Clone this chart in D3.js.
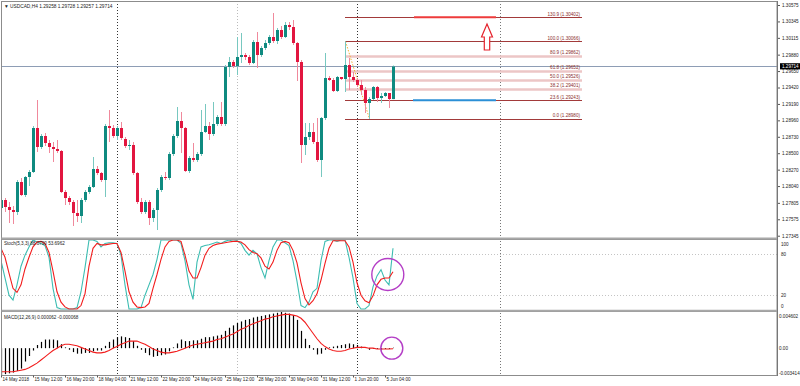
<!DOCTYPE html>
<html>
<head>
<meta charset="utf-8">
<script src="https://cdn.jsdelivr.net/npm/d3@7"></script>
<style>
  body { margin: 0; background: #fff; }
  svg { display: block; font-family: "Liberation Sans", Arial, sans-serif; }
  .ax text { font-size: 4.6px; fill: #222; }
  .ax line { stroke: #555; }
</style>
</head>
<body>
<div id="chart"></div>
<script>
// USDCAD H4 - velas 14 May 04:00 .. 5 Jun 12:00 (indice de barra 1..99)
const opens = [1.27733,1.27845,1.27747,1.27705,1.27677,1.28097,1.27915,1.28167,1.28237,1.28853,
  1.28587,1.28741,1.28643,1.28587,1.28559,1.28531,1.27957,1.27873,1.27817,1.27663,
  1.27621,1.27845,1.27957,1.28027,1.28279,1.28223,1.28125,1.28881,1.28853,1.28741,
  1.28853,1.28699,1.28601,1.28615,1.28223,1.27817,1.27677,1.27817,1.27593,1.27705,
  1.27985,1.28167,1.28153,1.28489,1.28741,1.28951,1.28853,1.28251,1.28433,1.28405,
  1.28489,1.28797,1.28881,1.28769,1.28909,1.29007,1.28909,1.29707,1.29777,1.29721,
  1.29847,1.29875,1.29847,1.29763,1.30057,1.29875,1.29973,1.30043,1.30127,1.30071,
  1.30225,1.30127,1.30295,1.30267,1.30043,1.29777,1.28615,1.28727,1.28797,1.28657,
  1.28405,1.28993,1.29553,1.29525,1.29371,1.29567,1.29539,1.29735,1.29567,1.29525,
  1.29455,1.29385,1.29203,1.29259,1.29427,1.29273,1.29301,1.29343,1.29258]
const highs = [1.27887,1.27873,1.27817,1.27761,1.28125,1.28153,1.28181,1.28265,1.28881,1.29245,
  1.28769,1.28783,1.28685,1.28657,1.28685,1.28545,1.27985,1.27901,1.27845,1.27845,
  1.27873,1.27985,1.28055,1.28447,1.28321,1.28237,1.28909,1.29105,1.28895,1.28881,
  1.28937,1.28727,1.28685,1.28657,1.28237,1.27873,1.27845,1.27845,1.27733,1.28013,
  1.28195,1.28237,1.28517,1.28769,1.29147,1.29077,1.28867,1.28461,1.28643,1.28517,
  1.29105,1.29189,1.28937,1.29217,1.29035,1.29217,1.29735,1.29847,1.29805,1.30127,
  1.30183,1.29903,1.29875,1.30085,1.30197,1.30001,1.30085,1.30155,1.30463,1.30253,
  1.30281,1.30337,1.30337,1.30365,1.30057,1.29805,1.28923,1.28923,1.28923,1.28993,
  1.29007,1.29903,1.29581,1.29553,1.29581,1.29567,1.30066,1.29833,1.29637,1.29553,
  1.29525,1.29427,1.29287,1.29441,1.29441,1.29343,1.29357,1.29343,1.29728]
const lows = [1.27677,1.27677,1.27523,1.27509,1.27635,1.27901,1.27887,1.28041,1.28223,1.28517,
  1.28559,1.28601,1.28503,1.28377,1.28503,1.27943,1.27775,1.27775,1.27481,1.27537,
  1.27523,1.27817,1.27929,1.28013,1.28195,1.28097,1.27887,1.28657,1.28713,1.28685,
  1.28685,1.28573,1.28545,1.28195,1.27789,1.27649,1.27649,1.27495,1.27537,1.27425,
  1.27957,1.28125,1.28125,1.28461,1.28713,1.28503,1.28237,1.28223,1.28377,1.28377,
  1.28461,1.28783,1.28685,1.28741,1.28881,1.28881,1.28881,1.29567,1.29693,1.29595,
  1.29763,1.29805,1.29735,1.29749,1.29693,1.29847,1.29945,1.30015,1.30043,1.30029,
  1.30099,1.30113,1.30225,1.30015,1.29511,1.28363,1.28475,1.28685,1.28629,1.28377,
  1.28167,1.28965,1.29511,1.29357,1.29357,1.29525,1.29357,1.29385,1.29497,1.29427,
  1.29315,1.29063,1.28980,1.29245,1.29217,1.29203,1.29287,1.29133,1.29257]
const closes = [1.27845,1.27747,1.27705,1.27677,1.28097,1.27915,1.28167,1.28237,1.28853,1.28587,
  1.28741,1.28643,1.28587,1.28559,1.28531,1.27957,1.27873,1.27817,1.27663,1.27621,
  1.27845,1.27957,1.28027,1.28279,1.28223,1.28125,1.28881,1.28853,1.28741,1.28853,
  1.28713,1.28601,1.28615,1.28223,1.27817,1.27677,1.27817,1.27593,1.27705,1.27985,
  1.28167,1.28153,1.28489,1.28741,1.28951,1.28853,1.28251,1.28433,1.28405,1.28489,
  1.28797,1.28881,1.28769,1.28909,1.29007,1.28909,1.29707,1.29777,1.29721,1.29847,
  1.29875,1.29847,1.29763,1.30057,1.29875,1.29973,1.30043,1.30127,1.30071,1.30225,
  1.30127,1.30295,1.30267,1.30043,1.29777,1.28615,1.28727,1.28797,1.28657,1.28405,
  1.28993,1.29553,1.29525,1.29371,1.29567,1.29539,1.29735,1.29567,1.29525,1.29455,
  1.29385,1.29203,1.29259,1.29427,1.29273,1.29301,1.29343,1.29259,1.29714]

// Estocástico (5,3,3): %K y %D
const stochK = [70,45,20,13,35,62,78,90,100,97, 95,92,75,30,2,0,0,0,0,2,
  25,60,100,100,98,90,95,96,96,95, 78,35,0,0,0,2,20,35,50,72,
  100,100,100,100,100,95,70,35,14,68, 90,92,93,95,97,95,98,100,98,99,
  95,85,78,85,80,60,45,70,90,100, 100,96,92,70,40,5,2,10,25,30,
  70,98,100,100,98,100,100,75,45,8, 0,0,5,32,48,57,42,35,88]
const stochD = [88,75,52,30,24,35,58,75,90,97, 98,95,82,55,25,10,3,0,0,0,
  5,22,62,88,95,93,93,94,95,95, 82,55,25,10,3,2,3,8,30,50,
  72,90,98,100,100,98,78,55,45,45, 60,78,88,92,94,95,96,97,98,98,
  97,93,86,82,80,74,62,58,68,85, 96,98,96,85,67,38,15,6,12,22,
  42,66,88,99,99,99,99,90,68,38, 20,12,9,19,35,43,45,45,54]

// MACD (12,26,9): histograma y señal
const macdHist = [-0.0034,-0.0033,-0.0032,-0.0031,-0.0029,-0.0026,-0.0017,-0.0010,-0.0003,0.0004,
  0.0008,0.0011,0.0011,0.0011,0.0010,0.0005,0.0001,-0.0002,-0.0005,-0.0007,
  -0.0007,-0.0006,-0.0006,-0.0004,-0.0003,-0.0003,0.0003,0.0008,0.0011,0.0014,
  0.0015,0.0014,0.0013,0.0009,0.0003,-0.0002,-0.0006,-0.0009,-0.0011,-0.0010,
  -0.0009,-0.0008,-0.0004,0.0001,0.0006,0.0011,0.0009,0.0009,0.0010,0.0010,
  0.0012,0.0014,0.0014,0.0015,0.0016,0.0017,0.0022,0.0026,0.0029,0.0032,
  0.0034,0.0036,0.0037,0.0039,0.0040,0.0041,0.0042,0.0043,0.0044,0.0045,
  0.0046,0.0045,0.0044,0.0042,0.0036,0.0022,0.0012,0.0004,-0.0002,-0.0008,
  -0.0007,-0.0002,0.0001,0.0002,0.0003,0.0004,0.0005,0.0006,0.0005,0.0004,
  0.0002,0.0000,-0.0002,-0.0001,-0.0001,-0.0002,-0.0001,-0.0001,0.00006]
const macdSignal = [-0.0030,-0.0030,-0.0030,-0.0030,-0.0029,-0.0028,-0.0027,-0.0025,-0.0022,-0.0019,
  -0.0015,-0.0011,-0.0007,-0.0003,0.0000,0.0003,0.0005,0.0005,0.0004,0.0003,
  0.0001,-0.0001,-0.0003,-0.0005,-0.0006,-0.0006,-0.0005,-0.0003,0.0000,0.0002,
  0.0005,0.0007,0.0009,0.0009,0.0009,0.0007,0.0005,0.0002,-0.0001,-0.0003,
  -0.0005,-0.0006,-0.0006,-0.0005,-0.0004,-0.0002,0.0000,0.0002,0.0004,0.0005,
  0.0006,0.0007,0.0008,0.0009,0.0011,0.0012,0.0014,0.0016,0.0018,0.0021,
  0.0024,0.0026,0.0029,0.0031,0.0033,0.0035,0.0037,0.0038,0.0040,0.0041,
  0.0042,0.0043,0.0043,0.0042,0.0041,0.0038,0.0033,0.0026,0.0019,0.0012,
  0.0006,0.0002,-0.0001,-0.0003,-0.0004,-0.0004,-0.0003,-0.0001,0.0000,0.0001,
  0.0001,0.0001,0.0000,0.0000,-0.0001,-0.0001,-0.0001,-0.0001,-0.00007]

// Etiquetas de los ejes
const priceTicks = [1.30575,1.30345,1.30115,1.29880,1.29650,1.29420,1.29190,1.28960,
  1.28730,1.28500,1.28270,1.28040,1.27805,1.27575,1.27345]
const stochTicks = [100, 80, 20, 0]
const macdTicks = [0.004602, 0, -0.003414]
const macdTickLabels = ["0.004602", "0.00", "-0.003414"]
const timeLabels = ["14 May 2018","15 May 12:00","16 May 20:00","18 May 04:00","21 May 12:00",
  "22 May 20:00","24 May 04:00","25 May 12:00","28 May 20:00","30 May 04:00",
  "31 May 12:00","1 Jun 20:00","5 Jun 04:00"]
const timeLabelBars = [1, 9, 17, 25, 33, 41, 49, 57, 65, 73, 81, 89, 97]

// Fibonacci (de máximo barra 87 a mínimo barra 93) y objetos dibujados
const fibLevels = ["130.9", "100.0", "80.9", "61.8", "50.0", "38.2", "23.6", "0.0"]
const fibPrices = [1.30402, 1.30066, 1.29862, 1.29652, 1.29526, 1.29401, 1.29243, 1.28980]
const separatorBars = [30, 60, 90, 125.75]
const lastPrice = 1.29714

// ----------------------------------------------------------

const width = 800
const height = 386
const axisX = 777
const left = 2

const svg = d3.select("div#chart").append("svg")
    .attr("width", width)
    .attr("height", height)

// Escalas: barra -> x, y una escala por panel
const x = d3.scaleLinear().domain([1, 99]).range([1, 393])
const yP = d3.scaleLinear().domain([1.27313, 1.30645]).range([238, 0])
const yS = d3.scaleLinear().domain([0, 100]).range([309, 240])
const yM = d3.scaleLinear().domain([-0.003414, 0.004602]).range([375, 312])

const defs = svg.append("defs")
defs.append("clipPath").attr("id", "clipMain").append("rect")
    .attr("x", left).attr("y", 1).attr("width", axisX - left).attr("height", 237)
defs.append("clipPath").attr("id", "clipStoch").append("rect")
    .attr("x", left).attr("y", 239).attr("width", axisX - left).attr("height", 71.5)
defs.append("clipPath").attr("id", "clipMacd").append("rect")
    .attr("x", left).attr("y", 312).attr("width", axisX - left).attr("height", 63)

// Separadores semanales (líneas punteadas verticales)
const sepColors = ["#333", "#bbb", "#333", "#777"]
svg.append("g").selectAll("line").data(separatorBars).enter().append("line")
    .attr("x1", d => x(d) + 0.5).attr("x2", d => x(d) + 0.5)
    .attr("y1", 1).attr("y2", 375)
    .attr("stroke", (d, k) => sepColors[k])
    .attr("stroke-dasharray", "1,2")

// ---------------- Panel principal ----------------
const mainG = svg.append("g").attr("clip-path", "url(#clipMain)")

// línea del precio actual
mainG.append("line")
    .attr("x1", left).attr("x2", axisX)
    .attr("y1", Math.round(yP(lastPrice)) + 0.5).attr("y2", Math.round(yP(lastPrice)) + 0.5)
    .attr("stroke", "#8e9db5")

// Fibonacci
const fibStrong = d => ["130.9", "100.0", "23.6", "0.0"].includes(d)
const fibG = mainG.append("g")
fibG.selectAll("line").data(fibLevels).enter().append("line")
    .attr("x1", x(87)).attr("x2", 582)
    .attr("y1", (d, k) => Math.round(yP(fibPrices[k])) + 0.5)
    .attr("y2", (d, k) => Math.round(yP(fibPrices[k])) + 0.5)
    .attr("stroke", d => fibStrong(d) ? "#a23a3a" : "#ecc6c6")
    .attr("stroke-width", d => fibStrong(d) ? 1 : 2.5)
fibG.selectAll("text").data(fibLevels).enter().append("text")
    .text((d, k) => `${d} (${fibPrices[k].toFixed(5)})`)
    .attr("x", 580).attr("y", (d, k) => yP(fibPrices[k]) - 1.5)
    .attr("text-anchor", "end")
    .attr("font-size", 4.6).attr("fill", "#8a2e2e")
fibG.append("line")
    .attr("x1", x(87) + 0.5).attr("y1", yP(highs[86]))
    .attr("x2", x(93) + 0.5).attr("y2", yP(lows[92]))
    .attr("stroke", "#f2b134").attr("stroke-dasharray", "1.5,1.5")

// velas
const bars = opens.map((o, k) => ({ i: k + 1, o: o, h: highs[k], l: lows[k], c: closes[k] }))
const candles = mainG.append("g").selectAll("g").data(bars).enter().append("g")
candles.append("line")
    .attr("x1", d => x(d.i) + 0.5).attr("x2", d => x(d.i) + 0.5)
    .attr("y1", d => yP(d.h)).attr("y2", d => yP(d.l))
    .attr("stroke", d => d.c >= d.o ? "#78c8c0" : "#f0899c")
candles.append("rect")
    .attr("x", d => x(d.i) - 1).attr("width", 3)
    .attr("y", d => yP(Math.max(d.o, d.c)))
    .attr("height", d => Math.max(1, Math.abs(yP(d.o) - yP(d.c))))
    .attr("fill", d => d.c >= d.o ? "#0f8a80" : "#e2163f")

// objetivos: segmento rojo (130.9) y azul (23.6), flecha hacia arriba
mainG.append("line")
    .attr("x1", x(104.25)).attr("x2", x(124.75))
    .attr("y1", yP(fibPrices[0])).attr("y2", yP(fibPrices[0]))
    .attr("stroke", "#ee3b3b").attr("stroke-width", 2)
mainG.append("line")
    .attr("x1", x(104)).attr("x2", x(124.75))
    .attr("y1", yP(fibPrices[6])).attr("y2", yP(fibPrices[6]))
    .attr("stroke", "#2b8fd6").attr("stroke-width", 2)
const ax0 = x(122.5), ay0 = yP(1.30309)
mainG.append("path")
    .attr("d", `M${ax0},${ay0} L${ax0 + 5.5},${ay0 + 13} L${ax0 + 2.7},${ay0 + 13} L${ax0 + 2.7},${ay0 + 26}
      L${ax0 - 2.7},${ay0 + 26} L${ax0 - 2.7},${ay0 + 13} L${ax0 - 5.5},${ay0 + 13} Z`)
    .attr("fill", "#fff").attr("stroke", "#e5222c").attr("stroke-width", 1.2)

mainG.append("text").text("\u25BC USDCAD,H4  1.29258 1.29728 1.29257 1.29714")
    .attr("x", 4).attr("y", 8).attr("font-size", 4.8).attr("fill", "#222")

// ---------------- Panel estocástico ----------------
const stochG = svg.append("g").attr("clip-path", "url(#clipStoch)")
stochG.selectAll("line.lvl").data([80, 20]).enter().append("line")
    .attr("x1", left).attr("x2", axisX)
    .attr("y1", d => Math.round(yS(d)) + 0.5).attr("y2", d => Math.round(yS(d)) + 0.5)
    .attr("stroke", "#c4c4c4").attr("stroke-dasharray", "1,2")
const stochLine = arr => d3.line().x((d, k) => x(k + 1)).y(d => yS(d))(arr)
stochG.append("path").attr("d", stochLine(stochK))
    .attr("fill", "none").attr("stroke", "#3dbdb2").attr("stroke-width", 1.1)
stochG.append("path").attr("d", stochLine(stochD))
    .attr("fill", "none").attr("stroke", "#f21d1d").attr("stroke-width", 1.1)
svg.append("text").text("Stoch(5,3,3) 88.0790 53.6962")
    .attr("x", 4).attr("y", 245).attr("font-size", 4.6).attr("fill", "#222")

// ---------------- Panel MACD ----------------
const macdG = svg.append("g").attr("clip-path", "url(#clipMacd)")
macdG.selectAll("line").data(macdHist).enter().append("line")
    .attr("x1", (d, k) => x(k + 1) + 0.5).attr("x2", (d, k) => x(k + 1) + 0.5)
    .attr("y1", yM(0)).attr("y2", d => yM(d))
    .attr("stroke", "#000").attr("stroke-width", 1.2)
macdG.append("path")
    .attr("d", d3.line().x((d, k) => x(k + 1)).y(d => yM(d))(macdSignal))
    .attr("fill", "none").attr("stroke", "#f21d1d").attr("stroke-width", 1.1)
svg.append("text").text("MACD(12,26,9) 0.000062 -0.000068")
    .attr("x", 4).attr("y", 318.5).attr("font-size", 4.6).attr("fill", "#222")

// círculos de la señal
svg.append("circle").attr("cx", x(97.7)).attr("cy", yS(50)).attr("r", 16)
    .attr("fill", "none").attr("stroke", "#b43ec6").attr("stroke-width", 1.4)
svg.append("circle").attr("cx", x(98.7)).attr("cy", yM(0)).attr("r", 11)
    .attr("fill", "none").attr("stroke", "#b43ec6").attr("stroke-width", 1.4)

// ---------------- Bordes de los paneles ----------------
const frame = svg.append("g").attr("fill", "none").attr("stroke", "#8c8c8c")
frame.append("rect").attr("x", 1.5).attr("y", 1.5).attr("width", axisX - 1.5).attr("height", 237)
frame.append("rect").attr("x", 1.5).attr("y", 239.5).attr("width", axisX - 1.5).attr("height", 71)
frame.append("rect").attr("x", 1.5).attr("y", 311.5).attr("width", axisX - 1.5).attr("height", 64)
frame.append("line").attr("x1", 1.5).attr("x2", axisX).attr("y1", 238.5).attr("y2", 238.5).attr("stroke", "#a8a8a8").attr("stroke-width", 2)
frame.append("line").attr("x1", 1.5).attr("x2", axisX).attr("y1", 310.8).attr("y2", 310.8).attr("stroke", "#a8a8a8").attr("stroke-width", 2)

// ---------------- Ejes ----------------
const priceAxis = d3.axisRight(yP).tickValues(priceTicks).tickSize(3).tickPadding(2)
    .tickFormat(d => d.toFixed(5))
svg.append("g").attr("class", "ax").attr("transform", `translate(${axisX} 0)`)
    .call(priceAxis).call(g => g.select(".domain").remove())

// marca del último precio
const lastY = yP(lastPrice)
svg.append("rect").attr("x", 780).attr("y", lastY - 3.3).attr("width", 20).attr("height", 6.2).attr("fill", "#000")
svg.append("text").text(lastPrice.toFixed(5))
    .attr("x", 782).attr("y", lastY + 1.6).attr("font-size", 4.6).attr("fill", "#fff")

const stochAxis = d3.axisRight(yS).tickValues(stochTicks).tickSize(0).tickPadding(4)
svg.append("g").attr("class", "ax").attr("transform", `translate(${axisX} 0)`)
    .call(stochAxis).call(g => g.select(".domain").remove())
    .selectAll("text").attr("dy", d => d === 100 ? "1.1em" : d === 0 ? "-0.3em" : "0.32em")

const macdAxis = d3.axisRight(yM).tickValues(macdTicks).tickSize(0).tickPadding(2)
    .tickFormat((d, k) => macdTickLabels[k])
svg.append("g").attr("class", "ax").attr("transform", `translate(${axisX} 0)`)
    .call(macdAxis).call(g => g.select(".domain").remove())
    .selectAll("text").attr("font-size", 4.3)
    .attr("dy", (d, k) => k === 0 ? "1.1em" : k === 2 ? "-0.2em" : "0.32em")

const timeAxis = d3.axisBottom(x).tickValues(timeLabelBars).tickSize(2).tickPadding(0)
    .tickFormat((d, k) => timeLabels[k])
svg.append("g").attr("class", "ax").attr("transform", "translate(0 375.5)")
    .call(timeAxis).call(g => g.select(".domain").remove())
    .selectAll("text").attr("text-anchor", "start").attr("x", 1).attr("y", 2)

// eje vertical derecho
svg.append("line").attr("x1", axisX + 0.5).attr("x2", axisX + 0.5).attr("y1", 1).attr("y2", 376)
    .attr("stroke", "#777")
</script>
</body>
</html>
